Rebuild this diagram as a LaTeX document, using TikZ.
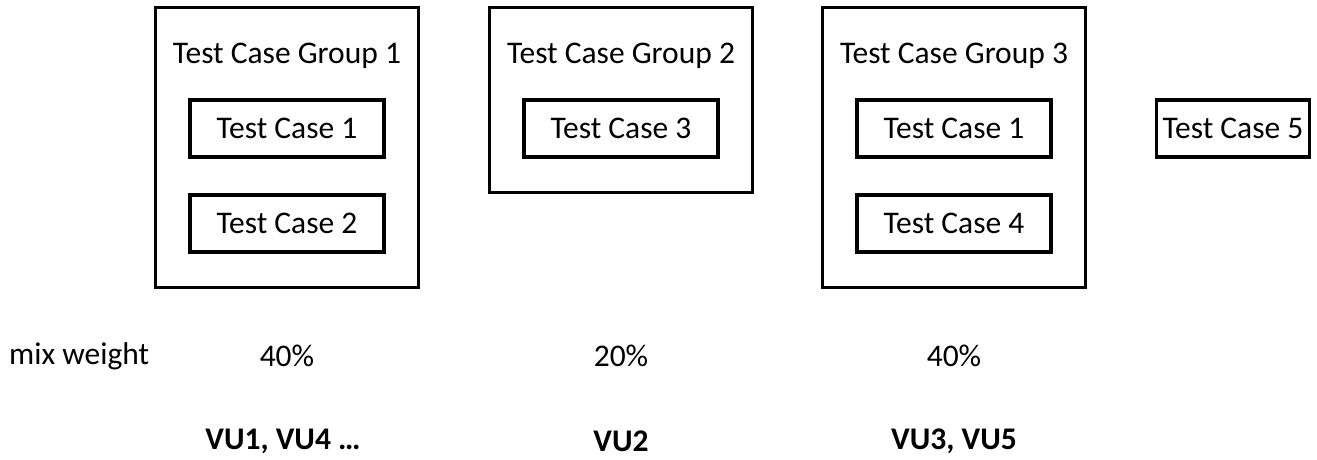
\documentclass[tikz,border=0pt]{standalone}
\usepackage{fontspec}
\setmainfont{Carlito}
\begin{document}
\begin{tikzpicture}[x=1pt,y=-1pt,
  grp/.style={draw,line width=3.2pt,minimum width=263pt,inner sep=0pt},
  tc/.style={draw,line width=3.2pt,minimum width=194pt,minimum height=57pt,inner sep=0pt,font=\fontsize{31.5}{34}\selectfont},
  lbl/.style={inner sep=0pt,font=\fontsize{31.5}{34}\selectfont},
  vu/.style={inner sep=0pt,font=\fontsize{31.5}{34}\selectfont\bfseries}]
\useasboundingbox (0,0) rectangle (1317,460);
% groups
\node[grp,minimum height=280pt] (g1) at (287,147.5) {};
\node[grp,minimum height=185pt] (g2) at (621,100) {};
\node[grp,minimum height=280pt] (g3) at (954,147.5) {};
\node[lbl] (g1t) at (287,56) {Test Case Group 1};
\node[lbl] (g2t) at (621,56) {Test Case Group 2};
\node[lbl] (g3t) at (954,56) {Test Case Group 3};
% test cases
\node[tc] (a1) at (287,128.5) {\raisebox{-2pt}{Test Case 1}};
\node[tc] (a2) at (287,223.5) {\raisebox{-2pt}{Test Case 2}};
\node[tc] (b3) at (621,128.5) {\raisebox{-2pt}{Test Case 3}};
\node[tc] (c1) at (954,128.5) {\raisebox{-2pt}{Test Case 1}};
\node[tc] (c4) at (954,223.5) {\raisebox{-2pt}{Test Case 4}};
\node[tc,minimum width=153pt] (d5) at (1233,128.5) {\raisebox{-2pt}{Test Case 5}};
% weights
\node[lbl,anchor=west] (mw) at (9,356) {mix weight};
\node[lbl] (w1) at (287,356) {40\%};
\node[lbl] (w2) at (621,356) {20\%};
\node[lbl] (w3) at (954,356) {40\%};
% VUs
\node[vu] (v1) at (283,441) {VU1, VU4 …};
\node[vu] (v2) at (621,441) {VU2};
\node[vu] (v3) at (954,441) {VU3, VU5};
\end{tikzpicture}
\end{document}
